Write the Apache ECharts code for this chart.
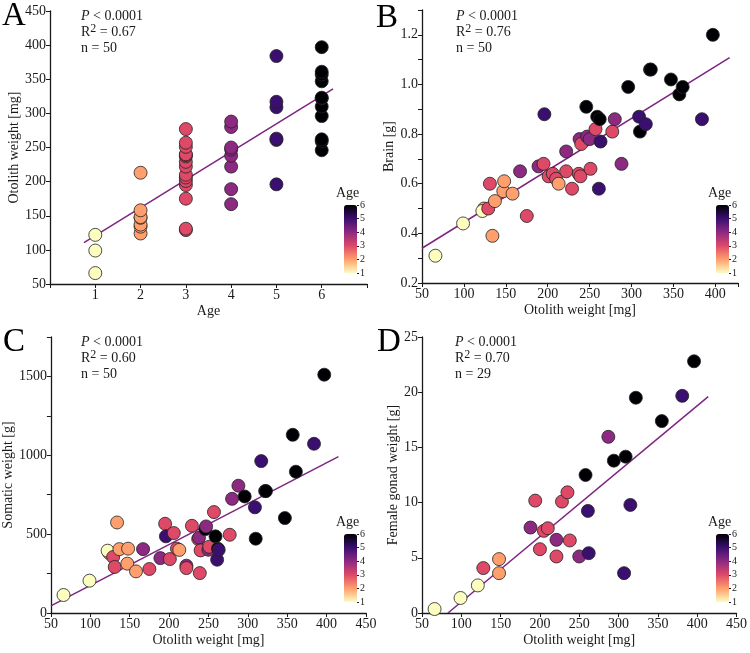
<!DOCTYPE html>
<html><head><meta charset="utf-8">
<script src="https://cdn.jsdelivr.net/npm/echarts@6/dist/echarts.min.js"></script>
<style>html,body{margin:0;padding:0;background:#fff}#c{width:750px;height:653px}</style>
</head><body><div id="c"></div>
<script>
// ---- data ----
const otolith = [124,66,99,122,129,131,134,137,147,148,158,175,167,189,195,196,201,206,210,213,222,222,229,237,239,238,240,246,247,250,251,257,259,262,261,263,277,280,288,296,309,310,317,322,323,347,357,361,384,397];
const age     = [2,1,1,1,3,3,2,2,2,2,2,3,4,4,3,5,3,3,3,2,4,3,3,3,3,4,3,6,4,4,3,3,6,6,5,5,3,4,4,6,5,6,5,6,6,6,6,6,5,6];
const brain   = [0.50,0.31,0.44,0.49,0.50,0.60,0.39,0.53,0.57,0.61,0.56,0.47,0.65,0.67,0.68,0.88,0.63,0.64,0.62,0.60,0.73,0.65,0.58,0.64,0.63,0.78,0.76,0.91,0.79,0.78,0.66,0.82,0.87,0.86,0.58,0.77,0.81,0.86,0.68,0.99,0.87,0.81,0.84,1.06,1.06,1.02,0.96,0.99,0.86,1.20];
const somatic = [380,114,205,395,355,292,574,405,313,408,264,279,405,348,566,486,342,507,408,400,300,285,553,469,253,478,397,532,549,401,420,640,486,408,338,400,496,724,807,739,670,471,963,773,773,602,1130,896,1073,1511];
const gonadOtolith = [66,99,121,128,148,148,188,194,200,205,210,221,221,228,235,238,250,258,261,262,287,294,309,307,315,322,355,381,396];
const gonadAge     = [1,1,1,3,2,2,4,3,3,3,3,4,3,3,3,3,4,6,5,5,4,6,6,5,5,6,6,5,6];
const gonadWeight  = [0.36,1.36,2.5,4.07,3.61,4.88,7.74,10.18,5.78,7.44,7.68,6.63,5.12,10.09,10.93,6.57,5.12,12.5,9.25,5.42,15.96,13.8,14.16,3.61,9.79,19.5,17.38,19.67,22.8];
// regression line end points
const fitA = [[0.75,110.5],[6.25,336]];
const fitB = [[50,0.34],[417,1.108]];
const fitC = [[50,45],[415,992]];
const fitD = [[83,0],[414,19.6]];
const stats = [
  {r2:'0.67', n:'50'}, {r2:'0.76', n:'50'}, {r2:'0.60', n:'50'}, {r2:'0.70', n:'29'}
];
const ageTicks = [1,2,3,4,5,6];

// ---- chart ----
const FONT = 'Liberation Serif';
const INK = '#1a1a1a';
const magma = ['#fcfdbf','#fe9f6d','#de4968','#8c2981','#3b0f70','#000004'];
const chart = echarts.init(document.getElementById('c'), null, {renderer:'canvas'});

const grids = [
  {left:50, top:11, width:317, height:273},
  {left:422, top:10, width:316, height:273},
  {left:50, top:337, width:316, height:276},
  {left:422, top:337, width:315, height:276}
];
const bars = [
  {left:344, top:205}, {left:716, top:205}, {left:344, top:534}, {left:716, top:534}
];
const BAR_W = 13, BAR_H = 68;

function axisBase(extra){
  return Object.assign({
    type:'value',
    axisLine:{show:true, lineStyle:{color:INK, width:1.3}},
    axisTick:{show:true, length:4, lineStyle:{color:INK, width:1}},
    axisLabel:{color:INK, fontFamily:FONT, fontSize:14, margin:4},
    splitLine:{show:false},
    nameTextStyle:{color:INK, fontFamily:FONT, fontSize:14},
    nameLocation:'middle'
  }, extra);
}

const gridList = grids.slice();
bars.forEach(b => gridList.push({left:b.left+BAR_W, top:b.top, width:1, height:BAR_H}));

const xAxes = [
  axisBase({gridIndex:0, min:0, max:7, interval:1, name:'Age', nameGap:20,
    axisLabel:{color:INK, fontFamily:FONT, fontSize:14, margin:4, formatter:v => (v>=1 && v<=6) ? String(v) : ''}}),
  axisBase({gridIndex:1, min:50, max:427, interval:50, name:'Otolith weight [mg]', nameGap:20,
    axisLabel:{color:INK, fontFamily:FONT, fontSize:14, margin:4, formatter:v => (v%50===0 && v<=400) ? String(v) : ''}}),
  axisBase({gridIndex:2, min:50, max:450, interval:50, name:'Otolith weight [mg]', nameGap:20}),
  axisBase({gridIndex:3, min:50, max:450, interval:50, name:'Otolith weight [mg]', nameGap:20})
];
const yAxes = [
  axisBase({gridIndex:0, min:50, max:450, interval:50, name:'Otolith weight [mg]', nameGap:29}),
  axisBase({gridIndex:1, min:0.2, max:1.3, interval:0.1, name:'Brain [g]', nameGap:24,
    axisLabel:{color:INK, fontFamily:FONT, fontSize:14, margin:4,
      formatter:v => { const k = Math.round(v*10); return (k%2===0 && k<=12) ? (k/10).toFixed(1) : ''; }}}),
  axisBase({gridIndex:2, min:0, max:1750, interval:250, name:'Somatic weight [g]', nameGap:29,
    axisLabel:{color:INK, fontFamily:FONT, fontSize:14, margin:4, formatter:v => (v%500===0) ? String(v) : ''}}),
  axisBase({gridIndex:3, min:0, max:25, interval:5, name:'Female gonad weight [g]', nameGap:18})
];
for (let k=0;k<4;k++){
  xAxes.push({gridIndex:4+k, type:'value', show:false, min:0, max:1});
  yAxes.push({gridIndex:4+k, type:'value', min:1, max:6, interval:1, position:'right',
    axisLine:{show:false}, splitLine:{show:false},
    axisTick:{show:true, length:2, lineStyle:{color:INK, width:1}},
    axisLabel:{color:INK, fontFamily:FONT, fontSize:10, margin:2, formatter:v => ageTicks.includes(v) ? String(v) : ''}});
}

const pointStyle = {borderColor:'#222', borderWidth:0.8, opacity:1};
const lineStyle = {color:'#7e2481', width:1.5};
function scatter(k, data){
  return {type:'scatter', xAxisIndex:k, yAxisIndex:k, data, symbolSize:13, itemStyle:pointStyle, z:3, silent:true};
}
function fit(k, data){
  return {type:'line', xAxisIndex:k, yAxisIndex:k, data, symbol:'none', lineStyle, z:2, silent:true, color:'#7e2481'};
}
const series = [
  scatter(0, otolith.map((o,i)=>[age[i], o, age[i]])),
  scatter(1, otolith.map((o,i)=>[o, brain[i], age[i]])),
  scatter(2, otolith.map((o,i)=>[o, somatic[i], age[i]])),
  scatter(3, gonadOtolith.map((o,i)=>[o, gonadWeight[i], gonadAge[i]])),
  fit(0, fitA), fit(1, fitB), fit(2, fitC), fit(3, fitD)
];

const visualMaps = bars.map((b,k)=>({
  type:'continuous', min:1, max:6, dimension:2, seriesIndex:k,
  inRange:{color:magma}, orient:'vertical', left:b.left, top:b.top,
  itemWidth:BAR_W, itemHeight:BAR_H, calculable:false, padding:0,
  text:null, hoverLink:false, realtime:false
}));

const letters = [['A',2,0],['B',376,2],['C',3,326],['D',377,326]];
const annPos = [[81,8],[456,8],[81,334],[455,334]];
const graphic = [];
letters.forEach(([t,x,y]) => graphic.push({type:'text', left:x, top:y, silent:true,
  style:{text:t, font:'33px "'+FONT+'"', fill:'#000'}}));
annPos.forEach(([x,y],k) => graphic.push({type:'text', left:x, top:y, silent:true,
  style:{
    text:'{i|P} < 0.0001\nR{s|2} = '+stats[k].r2+'\nn = '+stats[k].n,
    font:'14px "'+FONT+'"', fill:INK, lineHeight:16,
    rich:{
      i:{fontStyle:'italic', fontFamily:FONT, fontSize:14, fill:INK},
      s:{fontFamily:FONT, fontSize:12, fill:INK, padding:[0,0,7,0]}
    }
  }}));
bars.forEach(b => graphic.push({type:'text', left:b.left-8, top:b.top-19, silent:true,
  style:{text:'Age', font:'14px "'+FONT+'"', fill:INK}}));

chart.setOption({
  animation:false,
  backgroundColor:'#fff',
  grid:gridList,
  xAxis:xAxes,
  yAxis:yAxes,
  visualMap:visualMaps,
  series,
  graphic
});
</script></body></html>
